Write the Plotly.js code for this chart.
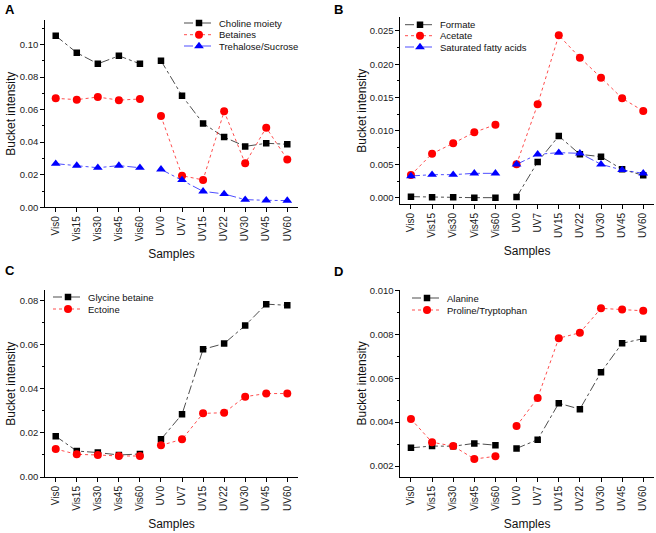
<!DOCTYPE html>
<html>
<head>
<meta charset="utf-8">
<script src="https://cdn.plot.ly/plotly-3.0.1.min.js"></script>
<style>html,body{margin:0;padding:0;background:#fff;}#chart{width:656px;height:533px;}</style>
</head>
<body>
<div id="chart"></div>
<script>
// ---- data ----
const samples = ['Vis0','Vis15','Vis30','Vis45','Vis60','UV0','UV7','UV15','UV22','UV30','UV45','UV60'];

// Panel A
const cholineMoiety   = [0.1053,0.0949,0.0881,0.0930,0.0881, 0.0900,0.0685,0.0515,0.0431,0.0374,0.0393,0.0387];
const betaines        = [0.0669,0.0661,0.0677,0.0658,0.0665, 0.0560,0.0194,0.0168,0.0589,0.0270,0.0489,0.0294];
const trehaloseSucrose= [0.0268,0.0256,0.0243,0.0256,0.0243, 0.0233,0.0168,0.0098,0.0082,0.0047,0.0043,0.0041];

// Panel B
const formate         = [0.00015,0.00005,0.00005,0.0000,0.0000, 0.0001,0.00535,0.00925,0.0065,0.00615,0.00425,0.00335];
const acetate         = [0.0034,0.0066,0.00815,0.0098,0.01095, 0.0050,0.0140,0.02435,0.0210,0.0180,0.0149,0.0130];
const saturatedFA     = [0.00325,0.00345,0.00345,0.00365,0.00365, 0.0050,0.0065,0.00675,0.00665,0.0050,0.00415,0.00365];

// Panel C
const glycineBetaine  = [0.0185,0.0118,0.0111,0.0100,0.01045, 0.0171,0.0285,0.0580,0.0606,0.0688,0.0785,0.0780];
const ectoine         = [0.0127,0.0103,0.0100,0.00955,0.00955, 0.0144,0.0171,0.0289,0.0292,0.0365,0.0379,0.0379];

// Panel D
const alanine         = [0.00283,0.00291,0.0029,0.00303,0.00295, 0.0028,0.0032,0.00486,0.00459,0.00627,0.00759,0.0078];
const prolineTrp      = [0.00414,0.00308,0.00291,0.00232,0.00244, 0.00382,0.0051,0.00782,0.00807,0.00918,0.00913,0.00907];

// ---- styles ----
const FONT = 'Liberation Sans, Arial, sans-serif';
const styles = {
  black: {color:'#000000', symbol:'square', size:6.5, dash:'dashdot'},
  red:   {color:'#ff0000', symbol:'circle', size:8, dash:'dot'},
  blue:  {color:'#0000ff', symbol:'triangle-up', size:8.5, dash:'dashdot'}
};

const traces = [];
function addSeries(name, values, style, axisIdx, legendId) {
  const xa = axisIdx === 1 ? 'x' : 'x' + axisIdx;
  const ya = axisIdx === 1 ? 'y' : 'y' + axisIdx;
  const s = styles[style];
  const common = {
    type:'scatter', mode:'lines+markers', xaxis:xa, yaxis:ya, name:name,
    line:{color:s.color, width:0.7, dash:s.dash},
    marker:{color:s.color, symbol:s.symbol, size:s.size, line:{width:0}},
    hoverinfo:'skip'
  };
  traces.push(Object.assign({}, common, {x:samples.slice(0,5), y:values.slice(0,5), showlegend:false}));
  traces.push(Object.assign({}, common, {x:samples.slice(5), y:values.slice(5), showlegend:true, legend:legendId}));
}
addSeries('Choline moiety', cholineMoiety, 'black', 1, 'legend');
addSeries('Betaines', betaines, 'red', 1, 'legend2');
addSeries('Trehalose/Sucrose', trehaloseSucrose, 'blue', 1, 'legend3');
addSeries('Formate', formate, 'black', 2, 'legend4');
addSeries('Acetate', acetate, 'red', 2, 'legend5');
addSeries('Saturated fatty acids', saturatedFA, 'blue', 2, 'legend6');
addSeries('Glycine betaine', glycineBetaine, 'black', 3, 'legend7');
addSeries('Ectoine', ectoine, 'red', 3, 'legend8');
addSeries('Alanine', alanine, 'black', 4, 'legend9');
addSeries('Proline/Tryptophan', prolineTrp, 'red', 4, 'legend10');

const W = 656, H = 533;
function xd(a,b){return [a/W, b/W];}
function yd(top,bottom){return [(H-bottom)/H, (H-top)/H];}

function xAxis(domain, anchor) {
  return {
    domain: domain, anchor: anchor, type:'category', range:[-0.5, 11.5],
    showline:true, linecolor:'#000', linewidth:1, mirror:false,
    showgrid:false, zeroline:false,
    ticks:'outside', ticklen:4, tickwidth:1, tickcolor:'#000',
    tickangle:-90, tickfont:{family:FONT, size:10, color:'#222'},
    title:{text:'Samples', font:{family:FONT, size:12, color:'#111'}, standoff:9},
    automargin:false
  };
}
function yAxis(domain, anchor, range, dtick, minorDtick, fmt, standoff) {
  return {
    domain: domain, anchor: anchor, range: range,
    showline:true, linecolor:'#000', linewidth:1, mirror:false,
    showgrid:false, zeroline:false,
    ticks:'outside', ticklen:4, tickwidth:1, tickcolor:'#000',
    tick0:0, dtick:dtick, tickformat:fmt,
    minor:{ticks:'outside', ticklen:2, tickwidth:1, tickcolor:'#000', dtick:minorDtick, tick0:0, showgrid:false},
    tickfont:{family:FONT, size:9.5, color:'#222'},
    title:{text:'Bucket intensity', font:{family:FONT, size:12, color:'#111'}, standoff:standoff},
    automargin:false
  };
}
function leg(x, yPix) {
  return {x:x/W, y:(H-yPix)/H, xanchor:'left', yanchor:'middle', bgcolor:'rgba(0,0,0,0)', borderwidth:0,
          font:{family:FONT, size:9.5, color:'#111'}, itemwidth:30};
}

const layout = {
  width:W, height:H, margin:{l:0,r:0,t:0,b:0},
  paper_bgcolor:'#fff', plot_bgcolor:'#fff',
  font:{family:FONT},
  xaxis:  xAxis(xd(45.2,297.8), 'y'),
  yaxis:  yAxis(yd(20,207.3), 'x', [0,0.115], 0.02, 0.01, '.2f', 1),
  xaxis2: xAxis(xd(400.4,653.8), 'y2'),
  yaxis2: yAxis(yd(17.3,204), 'x2', [-0.00095,0.02705], 0.005, 0.0025, '.3f', 0),
  xaxis3: xAxis(xd(45.2,297.8), 'y3'),
  yaxis3: yAxis(yd(290.3,477), 'x3', [0,0.0848], 0.02, 0.01, '.2f', 1),
  xaxis4: xAxis(xd(400.4,653.8), 'y4'),
  yaxis4: yAxis(yd(289.7,477), 'x4', [0.0015,0.01003], 0.002, 0.001, '.3f', 0),
  legend:  leg(179, 23),
  legend2: leg(179, 34.7),
  legend3: leg(179, 46),
  legend4: leg(400, 24.7),
  legend5: leg(400, 35.7),
  legend6: leg(400, 47),
  legend7: leg(48, 297),
  legend8: leg(48, 309),
  legend9: leg(407, 298),
  legend10: leg(407, 310),
  annotations: [
    {text:'<b>A</b>', x:3/W, y:(H-10)/H, xref:'paper', yref:'paper', xanchor:'left', yanchor:'middle', showarrow:false, font:{family:FONT, size:13, color:'#000'}},
    {text:'<b>B</b>', x:332/W, y:(H-10)/H, xref:'paper', yref:'paper', xanchor:'left', yanchor:'middle', showarrow:false, font:{family:FONT, size:13, color:'#000'}},
    {text:'<b>C</b>', x:3/W, y:(H-270)/H, xref:'paper', yref:'paper', xanchor:'left', yanchor:'middle', showarrow:false, font:{family:FONT, size:13, color:'#000'}},
    {text:'<b>D</b>', x:332/W, y:(H-271)/H, xref:'paper', yref:'paper', xanchor:'left', yanchor:'middle', showarrow:false, font:{family:FONT, size:13, color:'#000'}}
  ],
  showlegend:true
};

Plotly.newPlot('chart', traces, layout, {staticPlot:true, displayModeBar:false});
</script>
</body>
</html>
